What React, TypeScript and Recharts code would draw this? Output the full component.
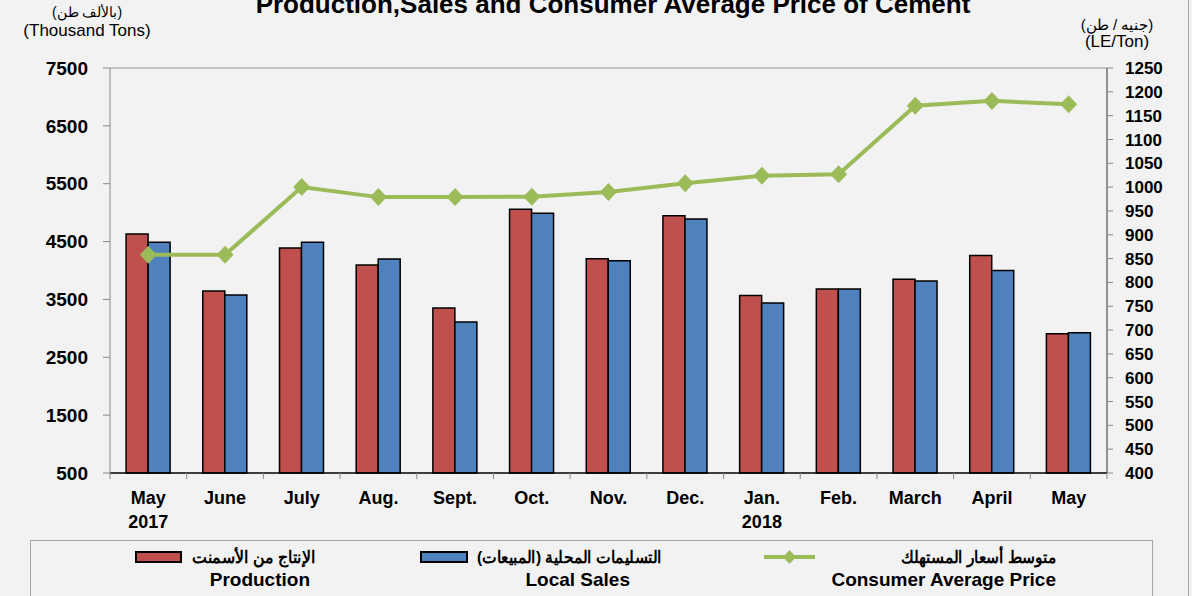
import { Bar, ComposedChart, Line, ReferenceLine, XAxis, YAxis } from "recharts";

const months = ["May", "June", "July", "Aug.", "Sept.", "Oct.", "Nov.", "Dec.", "Jan.", "Feb.", "March", "April", "May"];
const years = ["2017", "", "", "", "", "", "", "", "2018", "", "", "", ""];
const production = [4630, 3645, 4390, 4095, 3350, 5060, 4205, 4945, 3570, 3680, 3850, 4260, 2905];
const localSales = [4490, 3575, 4490, 4200, 3110, 4990, 4170, 4890, 3440, 3680, 3820, 4000, 2925];
const avgPrice = [858, 858, 1000, 979, 979, 980, 990, 1008, 1024, 1027, 1171, 1181, 1174];

const leftTicks = [500, 1500, 2500, 3500, 4500, 5500, 6500, 7500];
const rightTicks = [
  400, 450, 500, 550, 600, 650, 700, 750, 800, 850, 900, 950, 1000, 1050, 1100, 1150, 1200, 1250,
];

const data = months.map((m, i) => ({
  idx: i,
  production: production[i],
  localSales: localSales[i],
  avgPrice: avgPrice[i],
}));

const W = 1192;
const H = 596;
const PLOT_LEFT = 110;
const PLOT_RIGHT = 1107;
const BAND = (PLOT_RIGHT - PLOT_LEFT) / months.length;

const FONT = "'Liberation Sans', Arial, sans-serif";
const RED = "#c0504d";
const BLUE = "#4f81bd";
const GREEN = "#9bbb59";

function MonthTick(props: any) {
  const { x, y, payload } = props;
  const i = payload.value as number;
  const last = i === months.length - 1;
  return (
    <g>
      <line x1={x - BAND / 2} x2={x - BAND / 2} y1={y} y2={y + 6} stroke="#888" />
      {last && <line x1={x + BAND / 2} x2={x + BAND / 2} y1={y} y2={y + 6} stroke="#888" />}
      <text x={x} y={y + 31} textAnchor="middle" fontSize={18} fontWeight="bold" fill="#000" fontFamily={FONT}>
        {months[i]}
      </text>
      {years[i] && (
        <text x={x} y={y + 55} textAnchor="middle" fontSize={18} fontWeight="bold" fill="#000" fontFamily={FONT}>
          {years[i]}
        </text>
      )}
    </g>
  );
}

function Diamond(props: any) {
  const { cx, cy, index } = props;
  return (
    <path
      key={index}
      d={`M${cx} ${cy - 9} L${cx + 8.5} ${cy} L${cx} ${cy + 9} L${cx - 8.5} ${cy} Z`}
      fill={GREEN}
    />
  );
}

export default function App() {
  return (
    <div
      style={{
        position: "absolute",
        left: 0,
        top: 0,
        width: W,
        height: H,
        overflow: "hidden",
        background: "#f2f2f2",
        fontFamily: FONT,
      }}
    >
      <ComposedChart
        width={W}
        height={H}
        data={data}
        margin={{ top: 68, right: 10, bottom: 63, left: 10 }}
        barCategoryGap="21%"
        barGap={0}
      >
        <XAxis
          dataKey="idx"
          interval={0}
          height={60}
          tickSize={0}
          tickMargin={0}
          tick={<MonthTick />}
          axisLine={{ stroke: "#000", strokeWidth: 1.5 }}
          tickLine={false}
        />
        <YAxis
          yAxisId="left"
          orientation="left"
          width={100}
          domain={[500, 7500]}
          ticks={leftTicks}
          interval={0}
          tickSize={7}
          tickMargin={15}
          axisLine={{ stroke: "#888" }}
          tickLine={{ stroke: "#888" }}
          tick={{ fontSize: 19, fontWeight: "bold", fill: "#000", fontFamily: FONT }}
        />
        <YAxis
          yAxisId="right"
          orientation="right"
          width={75}
          domain={[400, 1250]}
          ticks={rightTicks}
          interval={0}
          tickSize={6}
          tickMargin={12}
          axisLine={{ stroke: "#333" }}
          tickLine={{ stroke: "#888" }}
          tick={{ fontSize: 17, fontWeight: "bold", fill: "#000", fontFamily: FONT }}
        />
        <ReferenceLine yAxisId="left" y={7500} stroke="#999" />
        <Bar
          yAxisId="left"
          dataKey="production"
          fill={RED}
          stroke="#000"
          strokeWidth={1.5}
          isAnimationActive={false}
        />
        <Bar
          yAxisId="left"
          dataKey="localSales"
          fill={BLUE}
          stroke="#000"
          strokeWidth={1.5}
          isAnimationActive={false}
        />
        <Line
          yAxisId="right"
          type="linear"
          dataKey="avgPrice"
          stroke={GREEN}
          strokeWidth={4}
          dot={<Diamond />}
          activeDot={false}
          isAnimationActive={false}
        />
      </ComposedChart>

      <svg
        width={W}
        height={H}
        style={{ position: "absolute", left: 0, top: 0, pointerEvents: "none" }}
        fontFamily={FONT}
      >
        <text x={613} y={13} textAnchor="middle" fontSize={26} fontWeight="bold" fill="#000">
          Production,Sales and Consumer Average Price of Cement
        </text>
        <text x={87} y={17} textAnchor="middle" fontSize={14} fill="#000">
          (بالألف طن)
        </text>
        <text x={87} y={36} textAnchor="middle" fontSize={17} fill="#000">
          (Thousand Tons)
        </text>
        <text x={1117} y={30} textAnchor="middle" fontSize={15} fill="#000">
          (جنيه / طن)
        </text>
        <text x={1117} y={47} textAnchor="middle" fontSize={17} fill="#000">
          (LE/Ton)
        </text>
        <line x1={1188.5} x2={1188.5} y1={0} y2={H} stroke="#a6a6a6" />

        <rect x={30.5} y={540.5} width={1122} height={80} fill="none" stroke="#a6a6a6" />
        <rect x={136} y={552} width={45} height={10} fill={RED} stroke="#000" strokeWidth={2} />
        <text
          x={316}
          y={563}
          textAnchor="end"
          fontSize={17}
          fontWeight="bold"
          fill="#000"
          textLength={124}
          lengthAdjust="spacingAndGlyphs"
        >
          الإنتاج من الأسمنت
        </text>
        <text x={310} y={586} textAnchor="end" fontSize={19} fontWeight="bold" fill="#000">
          Production
        </text>
        <rect x={421} y={552} width={46} height={10} fill={BLUE} stroke="#000" strokeWidth={2} />
        <text
          x={662}
          y={563}
          textAnchor="end"
          fontSize={17}
          fontWeight="bold"
          fill="#000"
          textLength={185}
          lengthAdjust="spacingAndGlyphs"
        >
          التسليمات المحلية (المبيعات)
        </text>
        <text x={630} y={586} textAnchor="end" fontSize={19} fontWeight="bold" fill="#000">
          Local Sales
        </text>
        <line x1={764} x2={815} y1={557} y2={557} stroke={GREEN} strokeWidth={4} />
        <path d="M789.5 550 L796 557 L789.5 564 L783 557 Z" fill={GREEN} />
        <text
          x={1056}
          y={563}
          textAnchor="end"
          fontSize={17}
          fontWeight="bold"
          fill="#000"
          textLength={155}
          lengthAdjust="spacingAndGlyphs"
        >
          متوسط أسعار المستهلك
        </text>
        <text x={1056} y={586} textAnchor="end" fontSize={19} fontWeight="bold" fill="#000">
          Consumer Average Price
        </text>
      </svg>
    </div>
  );
}
